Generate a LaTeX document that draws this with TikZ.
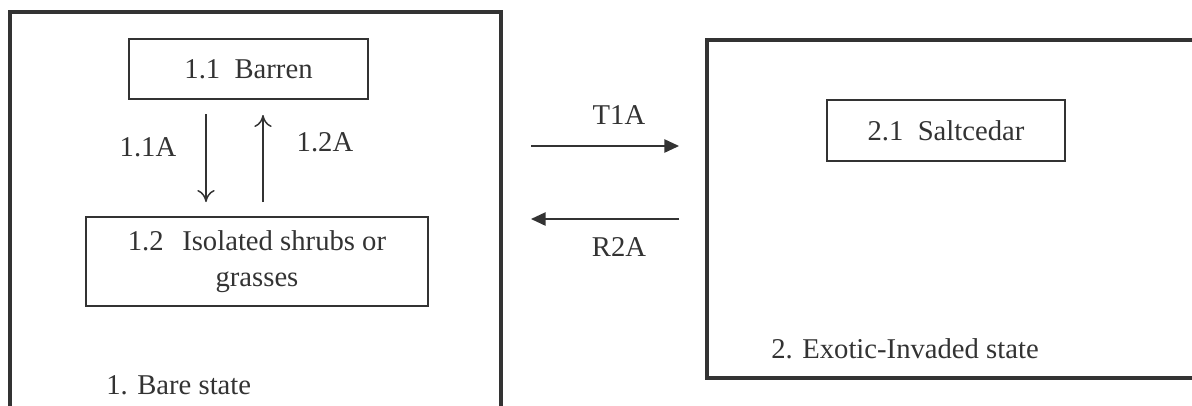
\documentclass[tikz,border=0pt]{standalone}
\usepackage{fontspec}
\setmainfont{Liberation Serif}
\usetikzlibrary{arrows.meta}
\def\u{0.75pt}
\definecolor{ink}{gray}{0.2}
\tikzset{
  lbl/.style={font=\fontsize{21.5}{27}\selectfont, text=ink, inner sep=0pt},
  outerbox/.style={draw=ink, line width=2.4pt, inner sep=0pt},
  statebox/.style={draw=ink, line width=1.5pt, inner sep=0pt, align=center,
    font=\fontsize{21.5}{27}\selectfont, text=ink},
  thinarrow/.style={draw=ink, line width=1.1pt, -{To[length=9pt,width=13pt]}},
  fatarrow/.style={draw=ink, line width=1.2pt, -{Triangle[length=11pt,width=10pt]}}
}
\begin{document}
\begin{tikzpicture}[x=\u, y=-\u]
\useasboundingbox (0,0) rectangle (1192,405);
\clip (0,0) rectangle (1192,405);
\fill[white] (0,0) rectangle (1192,405);
% outer state boxes
\node[outerbox, minimum width=491*\u, minimum height=430*\u] (lbox) at (255.5,227) {};
\node[outerbox, minimum width=510*\u, minimum height=338*\u] (rbox) at (962,209) {};
% inner boxes
\node[statebox, minimum width=239*\u, minimum height=60*\u] (b11) at (248.5,69) {1.1\enspace Barren};
\node[statebox, minimum width=342*\u, minimum height=89*\u] (b12) at (257,261.5) {1.2\hspace{0.65em}Isolated shrubs or\\grasses};
\node[statebox, minimum width=238*\u, minimum height=61*\u] (b21) at (946,130.5) {2.1\enspace Saltcedar};
% inner transitions
\coordinate (d1) at (206,114); \coordinate (d2) at (206,202);
\coordinate (u1) at (263,202); \coordinate (u2) at (263,115);
\draw[thinarrow] (d1) -- (d2);
\draw[thinarrow] (u1) -- (u2);
\node[lbl] (l11) at (148,147) {1.1A};
\node[lbl] (l12) at (325,142) {1.2A};
% between states
\coordinate (t1) at (531,146); \coordinate (t2) at (679,146);
\coordinate (r1) at (679,219); \coordinate (r2) at (531,219);
\draw[fatarrow] (t1) -- (t2);
\draw[fatarrow] (r1) -- (r2);
\node[lbl] (lt) at (619,115) {T1A};
\node[lbl] (lr) at (619,247) {R2A};
% state names
\node[lbl, anchor=west] (n1) at (106,385) {1. Bare state};
\node[lbl, anchor=west] (n2) at (771,349) {2. Exotic-Invaded state};
\end{tikzpicture}
\end{document}
